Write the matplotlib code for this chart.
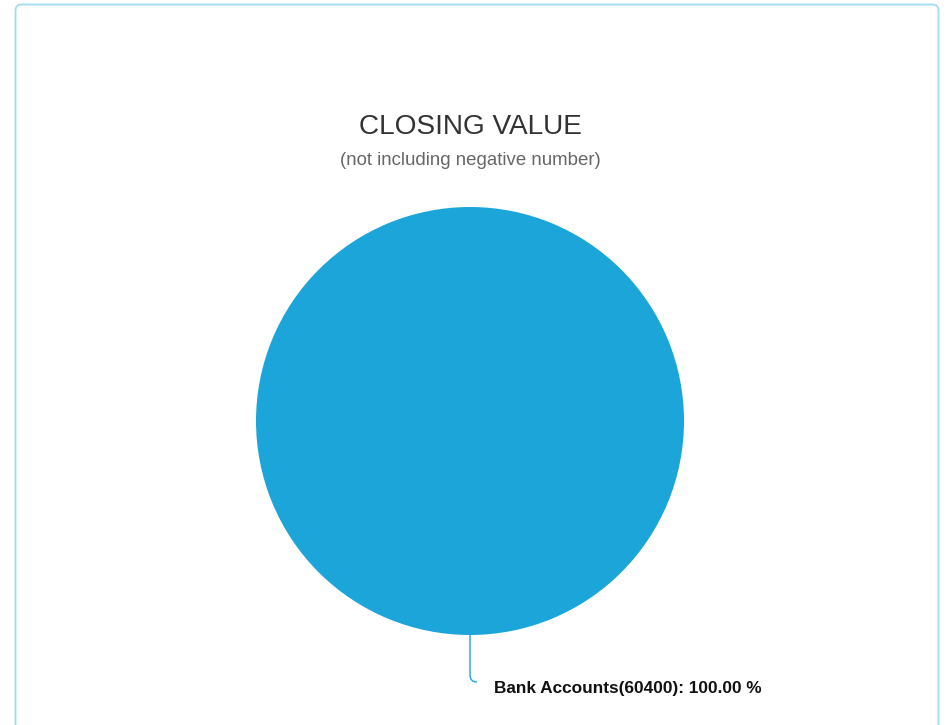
import numpy as np
import matplotlib
matplotlib.use("Agg")
import matplotlib.pyplot as plt
from matplotlib.patches import FancyBboxPatch, PathPatch
from matplotlib.path import Path

labels = ["Bank Accounts"]
values = [60400]
colors = ["#1ba5d8"]

W, H = 947, 725
fig = plt.figure(figsize=(W / 100, H / 100), dpi=100)
ax = fig.add_axes([0, 0, 1, 1])

# outer card border
card = FancyBboxPatch((15.5, 4.5), 923, 740, boxstyle="round,pad=0,rounding_size=6",
                      fc="white", ec="#a3dbef", lw=1.3, zorder=0)
ax.add_patch(card)

cx, cy, r = 470, 421, 214
wedges, _ = ax.pie(values, colors=colors, startangle=90, center=(cx, cy), radius=r,
                   wedgeprops=dict(linewidth=0), frame=True)
ax.set_xlim(0, W)
ax.set_ylim(H, 0)
ax.set_aspect("equal")
ax.axis("off")

total = sum(values)
for w, lab, v in zip(wedges, labels, values):
    mid = np.deg2rad((w.theta1 + w.theta2) / 2)
    # y axis is inverted, so flip the sine
    px, py = cx + r * np.cos(mid), cy - r * np.sin(mid)
    verts = [(px, py), (px, py + 40), (px, py + 47), (px + 7, py + 47)]
    codes = [Path.MOVETO, Path.LINETO, Path.CURVE3, Path.CURVE3]
    ax.add_patch(PathPatch(Path(verts, codes), fc="none", ec=colors[0], lw=1))
    ax.text(px + 24, py + 53, f"{lab}({v}): {100 * v / total:.2f} %",
            fontsize=12.4, fontweight="bold", family="Liberation Sans",
            ha="left", va="center", color="#111111")

ax.text(cx, 127, "CLOSING VALUE", fontsize=20.2, family="Liberation Sans",
        ha="center", va="center", color="#333333")
ax.text(cx, 160, "(not including negative number)", fontsize=13.4, family="Liberation Sans",
        ha="center", va="center", color="#666666")

fig.savefig("out.png", dpi=100)
